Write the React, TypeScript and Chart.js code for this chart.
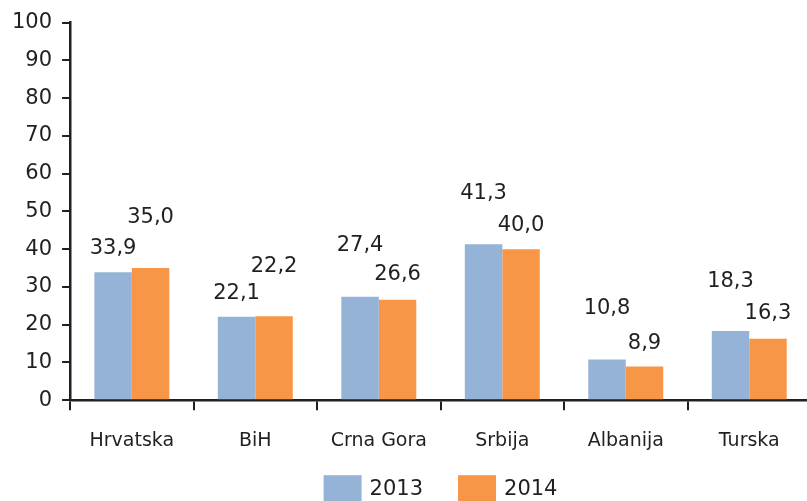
import React, { useEffect, useRef } from "react";
import { Chart, registerables } from "chart.js";

Chart.register(...registerables);

const categories = ["Hrvatska", "BiH", "Crna Gora", "Srbija", "Albanija", "Turska"];
const values2013 = [33.9, 22.1, 27.4, 41.3, 10.8, 18.3];
const values2014 = [35.0, 22.2, 26.6, 40.0, 8.9, 16.3];
const seriesNames = ["2013", "2014"];
const seriesColors = ["#95b3d7", "#f79646"];

// label lift above bar top (px) – style config
const lift2013 = [24, 23, 51, 51, 51, 50];
const lift2014 = [50, 50, 25, 24, 23, 25];

const FONT = "'DejaVu Sans', sans-serif";
const TXT = "#231f20";

const labelPlugin = {
  id: "barLabels",
  afterDatasetsDraw(chart: any) {
    const ctx = chart.ctx;
    ctx.save();
    ctx.font = `21px ${FONT}`;
    ctx.fillStyle = TXT;
    ctx.textAlign = "center";
    ctx.textBaseline = "middle";
    chart.data.datasets.forEach((ds: any, di: number) => {
      const meta = chart.getDatasetMeta(di);
      const lifts = di === 0 ? lift2013 : lift2014;
      meta.data.forEach((bar: any, i: number) => {
        const v = ds.data[i] as number;
        const txt = v.toFixed(1).replace(".", ",");
        ctx.fillText(txt, bar.x, bar.y - lifts[i]);
      });
    });
    ctx.restore();
  },
};

const legendPlugin = {
  id: "customLegend",
  afterDraw(chart: any) {
    const ctx = chart.ctx;
    const area = chart.chartArea;
    ctx.save();
    ctx.font = `21px ${FONT}`;
    const boxW = 38, boxH = 26, gapText = 8, gapItem = 35;
    const widths = seriesNames.map((n) => boxW + gapText + ctx.measureText(n).width);
    const total = widths.reduce((a, b) => a + b, 0) + gapItem * (widths.length - 1);
    let x = (area.left + area.right) / 2 - total / 2;
    const top = area.bottom + 75;
    seriesNames.forEach((n, i) => {
      ctx.fillStyle = seriesColors[i];
      ctx.fillRect(x, top, boxW, boxH);
      ctx.fillStyle = TXT;
      ctx.textAlign = "left";
      ctx.textBaseline = "middle";
      ctx.fillText(n, x + boxW + gapText, top + boxH / 2 + 1);
      x += widths[i] + gapItem;
    });
    ctx.restore();
  },
};

export default function App() {
  const ref = useRef<HTMLCanvasElement>(null);
  useEffect(() => {
    const chart = new Chart(ref.current!, {
      type: "bar",
      data: {
        labels: categories,
        datasets: [
          { label: seriesNames[0], data: values2013, backgroundColor: seriesColors[0] },
          { label: seriesNames[1], data: values2014, backgroundColor: seriesColors[1] },
        ],
      },
      options: {
        responsive: false,
        animation: false,
        events: [],
        layout: { padding: { left: 2, right: 9, top: 20, bottom: 30 } },
        datasets: { bar: { categoryPercentage: 0.607, barPercentage: 1 } } as any,
        scales: {
          x: {
            grid: { drawOnChartArea: false, tickLength: 10, color: TXT, lineWidth: 2 },
            border: { color: TXT, width: 2.5 },
            ticks: { color: TXT, font: { family: FONT, size: 19 }, padding: 19 },
          },
          y: {
            min: 0,
            max: 100,
            grid: { drawOnChartArea: false, tickLength: 8, color: TXT, lineWidth: 2 },
            border: { color: TXT, width: 2.5 },
            ticks: { stepSize: 10, color: TXT, font: { family: FONT, size: 21 }, padding: 10 },
          },
        },
        plugins: {
          legend: { display: false },
          tooltip: { enabled: false },
        },
      },
      plugins: [labelPlugin, legendPlugin],
    });
    return () => chart.destroy();
  }, []);
  return (
    <div style={{ position: "fixed", left: 0, top: 0, width: 807, height: 501, overflow: "hidden", background: "#fff" }}>
      <canvas ref={ref} width={820} height={501} style={{ width: 820, height: 501 }} />
    </div>
  );
}
